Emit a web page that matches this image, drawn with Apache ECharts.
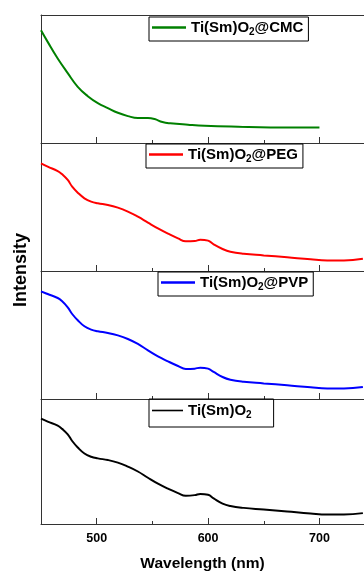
<!DOCTYPE html>
<html>
<head>
<meta charset="utf-8">
<script src="https://cdn.jsdelivr.net/npm/echarts@6/dist/echarts.min.js"></script>
<style>
  html, body { margin: 0; padding: 0; background: #fff; }
  #chart { width: 364px; height: 573px; }
</style>
</head>
<body>
<div id="chart"></div>
<script>
// wavelengths (nm) and relative intensities
const wlCMC = [450, 456, 465, 474, 483, 492, 501, 510, 519, 528, 537, 546, 552, 559, 566, 582, 597, 627, 656, 700];
const cmc = [0.881, 0.790, 0.660, 0.546, 0.439, 0.366, 0.312, 0.273, 0.236, 0.210, 0.195, 0.195, 0.187, 0.164, 0.154, 0.143, 0.135, 0.127, 0.122, 0.122];

const wl = [450, 456, 465, 469, 474, 478, 483, 489, 495, 501, 510, 519, 528, 537, 546, 555, 564, 573, 580, 588, 593, 600, 605, 613, 620, 632, 650, 671, 692, 707, 722, 739];
const peg = [0.841, 0.815, 0.781, 0.755, 0.711, 0.659, 0.612, 0.568, 0.542, 0.529, 0.516, 0.495, 0.464, 0.424, 0.378, 0.333, 0.292, 0.255, 0.232, 0.234, 0.245, 0.237, 0.208, 0.172, 0.151, 0.135, 0.122, 0.107, 0.091, 0.083, 0.083, 0.096];
const pvp = [0.841, 0.820, 0.789, 0.763, 0.716, 0.664, 0.615, 0.568, 0.542, 0.529, 0.516, 0.497, 0.469, 0.430, 0.380, 0.333, 0.294, 0.258, 0.234, 0.237, 0.245, 0.237, 0.211, 0.172, 0.151, 0.135, 0.122, 0.107, 0.091, 0.083, 0.083, 0.094];
const pure = [0.843, 0.819, 0.787, 0.761, 0.717, 0.664, 0.612, 0.564, 0.538, 0.525, 0.512, 0.491, 0.459, 0.420, 0.370, 0.323, 0.283, 0.247, 0.226, 0.231, 0.241, 0.234, 0.205, 0.163, 0.144, 0.129, 0.116, 0.100, 0.084, 0.076, 0.076, 0.087];

const names = ['Ti(Sm)O2@CMC', 'Ti(Sm)O2@PEG', 'Ti(Sm)O2@PVP', 'Ti(Sm)O2'];
const colors = ['#008000', '#ff0000', '#0000ff', '#000000'];
const majorTicks = [500, 600, 700];
const minorTicks = [550, 650];

const font = '"Liberation Sans", Arial, sans-serif';
const pairs = (xs, ys) => xs.map((x, i) => [x, ys[i]]);
const seriesData = [pairs(wlCMC, cmc), pairs(wl, peg), pairs(wl, pvp), pairs(wl, pure)];

const panelTops = [15, 143, 271, 399];
const panelHeights = [128, 128, 128, 127];
const legendPos = [[149, 17], [146, 144], [158, 272], [149, 399]];

const myChart = echarts.init(document.getElementById('chart'));

let grids = [], xAxes = [], yAxes = [], series = [], legends = [];
for (let i = 0; i < 4; i++) {
  grids.push({ left: 41, top: panelTops[i], right: 0, height: panelHeights[i] });
  xAxes.push({
    gridIndex: i, type: 'value', position: 'bottom', min: 450, max: 740,
    axisLine: { show: true, onZero: false, lineStyle: { color: '#333', width: 1 } },
    axisTick: { show: true, inside: true, length: 6, customValues: majorTicks, lineStyle: { color: '#333' } },
    axisLabel: {
      show: i === 3, customValues: majorTicks, margin: 8,
      color: '#000', fontWeight: 'bold', fontSize: 12.5, fontFamily: font
    },
    splitLine: { show: false },
    name: i === 3 ? 'Wavelength (nm)' : '',
    nameLocation: 'middle', nameGap: 32,
    nameTextStyle: { color: '#000', fontWeight: 'bold', fontSize: 15.5, fontFamily: font }
  });
  xAxes.push({
    gridIndex: i, type: 'value', position: 'bottom', min: 450, max: 740,
    axisLine: { show: false },
    axisTick: { show: true, inside: true, length: 3, customValues: minorTicks, lineStyle: { color: '#333' } },
    axisLabel: { show: false },
    splitLine: { show: false }
  });
  yAxes.push({
    gridIndex: i, type: 'value', min: 0, max: 1,
    axisLine: { show: true, lineStyle: { color: '#333', width: 1 } },
    axisTick: { show: false }, axisLabel: { show: false }, splitLine: { show: false }
  });
  series.push({
    name: names[i], type: 'line', xAxisIndex: 2 * i, yAxisIndex: i,
    data: seriesData[i], smooth: 0.45, symbol: 'none',
    lineStyle: { color: colors[i], width: 2 }, itemStyle: { color: colors[i] }
  });
  legends.push({
    data: [names[i]], left: legendPos[i][0], top: legendPos[i][1],
    orient: 'horizontal', borderColor: '#000', borderWidth: 1,
    padding: i === 3 ? [4, 22, 7, 3] : [3, 5, 4, 3],
    icon: 'rect',
    itemWidth: i === 3 ? 31 : 34, itemHeight: i === 3 ? 1.6 : 2.4,
    formatter: function (n) {
      let rest = n.split('O2')[1];
      return '{a|Ti(Sm)O}{s|2}' + (rest ? '{a|' + rest + '}' : '');
    },
    textStyle: {
      color: '#000', fontWeight: 'bold', fontSize: 15, fontFamily: font,
      rich: {
        a: { color: '#000', fontWeight: 'bold', fontSize: 15, fontFamily: font },
        s: { color: '#000', fontWeight: 'bold', fontSize: 10, fontFamily: font, padding: [9, 0, 0, 0] }
      }
    }
  });
}

// top frame line of the first panel
xAxes.push({
  gridIndex: 0, type: 'value', position: 'top', min: 450, max: 740,
  axisLine: { show: true, onZero: false, lineStyle: { color: '#333', width: 1 } },
  axisTick: { show: false }, axisLabel: { show: false }, splitLine: { show: false }
});

let option = {
  animation: false,
  grid: grids,
  xAxis: xAxes,
  yAxis: yAxes,
  legend: legends,
  series: series,
  graphic: [{
    type: 'text', x: 21, y: 270, rotation: Math.PI / 2,
    style: {
      text: 'Intensity', fill: '#000', font: 'bold 18px ' + font,
      textAlign: 'center', textVerticalAlign: 'middle'
    }
  }]
};

option && myChart.setOption(option);
</script>
</body>
</html>
